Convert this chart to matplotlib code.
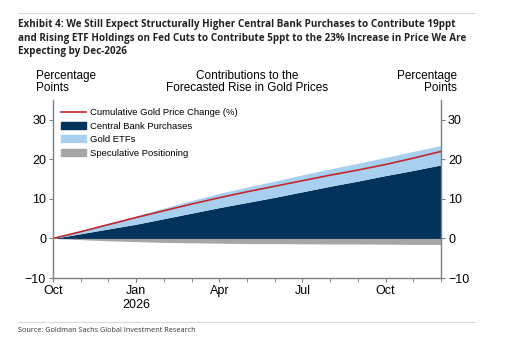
import numpy as np
import matplotlib
matplotlib.use('Agg')
import matplotlib.pyplot as plt
from matplotlib.patches import Patch
from matplotlib.lines import Line2D

# monthly path Oct-2025 .. Dec-2026 (percentage points), x = months since Oct-2025
months = np.arange(15)
central_bank = [0, 1.2, 2.4, 3.6, 5.0, 6.4, 7.8, 9.1, 10.4, 11.8, 13.2, 14.5, 15.9, 17.2, 18.6]
gold_etfs = [0, 0.7, 1.4, 2.1, 2.7, 3.2, 3.6, 3.9, 4.1, 4.3, 4.4, 4.5, 4.6, 4.8, 4.9]
speculative = [0, -0.3, -0.6, -0.8, -1.0, -1.1, -1.2, -1.3, -1.3, -1.35, -1.4, -1.4, -1.45, -1.5, -1.5]
cum_price = [0, 1.7, 3.5, 5.3, 7.0, 8.7, 10.3, 11.8, 13.2, 14.6, 16.0, 17.3, 18.7, 20.3, 22.0]
tick_pos = [0, 3, 6, 9, 12]
tick_labels = ['Oct', 'Jan\n2026', 'Apr', 'Jul', 'Oct']

navy = '#00325c'
light = '#a9cfee'
grey = '#a6a6a6'
red = '#c0282d'
spine_c = '#7f7f7f'

plt.rcParams['font.family'] = ['Liberation Sans', 'DejaVu Sans']

fig = plt.figure(figsize=(5.07, 3.46), dpi=100)
ax = fig.add_axes([0.1045, 0.1965, 0.7655, 0.5145])

cb = np.array(central_bank)
etf = np.array(gold_etfs)
ax.fill_between(months, 0, cb, color=navy, lw=0)
ax.fill_between(months, cb, cb + etf, color=light, lw=0)
ax.fill_between(months, 0, speculative, color=grey, lw=0)
ax.plot(months, cum_price, color=red, lw=1.2)

ax.set_xlim(0, 14)
ax.set_ylim(-10, 35)
ax.set_yticks([-10, 0, 10, 20, 30])
ax.set_yticklabels(['\u221210', '0', '10', '20', '30'])
ax.set_xticks(tick_pos)
ax.set_xticklabels(tick_labels)
ax.set_xticks(months, minor=True)

ax.spines['top'].set_visible(False)
for s in ['left', 'right', 'bottom']:
    ax.spines[s].set_color(spine_c)
    ax.spines[s].set_linewidth(1.0)
ax.tick_params(axis='y', which='both', left=True, right=True, labelleft=True,
               labelright=True, direction='out', length=3, color=spine_c,
               labelsize=9, pad=2)
ax.tick_params(axis='x', which='both', direction='out', length=3, color=spine_c,
               labelsize=9, pad=2)

handles = [Line2D([], [], color=red, lw=1.2),
           Patch(color=navy), Patch(color=light), Patch(color=grey)]
labels = ['Cumulative Gold Price Change (%)', 'Central Bank Purchases',
          'Gold ETFs', 'Speculative Positioning']
ax.legend(handles, labels, loc='upper left', bbox_to_anchor=(0.0, 1.0),
          frameon=False, fontsize=6.8, handlelength=2.6, handleheight=0.8,
          labelspacing=0.48, handletextpad=0.45, borderaxespad=0.45)

fig.text(36 / 507, 1 - 82 / 346, 'Percentage\nPoints', fontsize=8.5,
         ha='left', va='center', linespacing=1.1)
fig.text(457 / 507, 1 - 82 / 346, 'Percentage\nPoints', fontsize=8.5,
         ha='right', va='center', multialignment='right', linespacing=1.1)
fig.text(247 / 507, 1 - 82 / 346, 'Contributions to the\nForecasted Rise in Gold Prices',
         fontsize=8.5, ha='center', va='center', linespacing=1.1)

fig.text(18 / 507, 1 - 38 / 346,
         'Exhibit 4: We Still Expect Structurally Higher Central Bank Purchases to Contribute 19ppt\n'
         'and Rising ETF Holdings on Fed Cuts to Contribute 5ppt to the 23% Increase in Price We Are\n'
         'Expecting by Dec-2026',
         fontsize=7.15, fontweight='bold', family=['Open Sans', 'DejaVu Sans'],
         ha='left', va='center', linespacing=1.35, color='#222222')
fig.add_artist(Line2D([18 / 507, 475 / 507], [1 - 13 / 346, 1 - 13 / 346],
                      color='#d9d9d9', lw=0.8))
fig.add_artist(Line2D([18 / 507, 475 / 507], [1 - 322 / 346, 1 - 322 / 346],
                      color='#d9d9d9', lw=0.8))
fig.text(18 / 507, 1 - 330 / 346, 'Source: Goldman Sachs Global Investment Research',
         fontsize=5.2, family=['Open Sans', 'DejaVu Sans'], ha='left', va='center',
         color='#333333')

fig.savefig('out.png', dpi=100)
